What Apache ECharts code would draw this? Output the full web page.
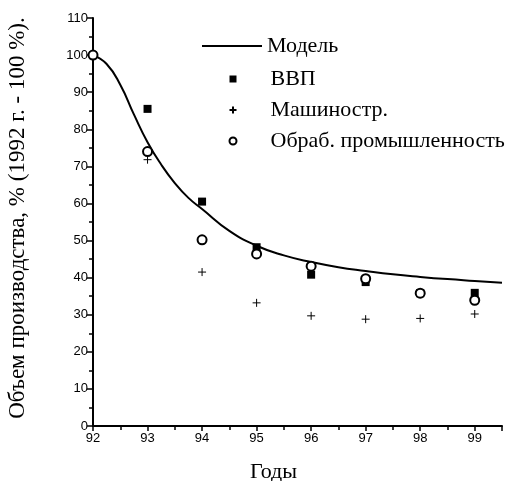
<!DOCTYPE html>
<html><head><meta charset="utf-8">
<script src="https://cdn.jsdelivr.net/npm/echarts@6/dist/echarts.min.js"></script>
<style>html,body{margin:0;padding:0;background:#fff}#c{width:512px;height:481px}</style>
</head><body><div id="c"></div>
<script>
const years = [92, 93, 94, 95, 96, 97, 98, 99];
const gdp = [100, 85.5, 60.5, 48.2, 40.8, 38.8, 35.8, 35.9];
const machinery = [null, 71.8, 41.5, 33.2, 29.7, 28.8, 29.0, 30.2];
const manufacturing = [100, 74.0, 50.2, 46.4, 43.1, 39.7, 35.8, 33.9];
const modelX = [92, 92.25, 92.5, 92.75, 93, 93.25, 93.5, 93.75, 94, 94.5, 95, 95.5, 96, 96.5, 97, 97.5, 98, 98.5, 99, 99.5];
const modelY = [100, 97.6, 92.0, 84.0, 76.5, 70.5, 65.5, 61.5, 58.5, 52.6, 48.6, 46.0, 44.2, 42.8, 41.8, 40.9, 40.2, 39.6, 39.1, 38.6];
const names = ['Модель', 'ВВП', 'Машиностр.', 'Обраб. промышленность'];
const yTicks = [0, 10, 20, 30, 40, 50, 60, 70, 80, 90, 100, 110];

const pair = (xs, ys) => xs.map((x, i) => [x, ys[i]]).filter(p => p[1] !== null);
const chart = echarts.init(document.getElementById('c'), null, {renderer: 'canvas'});
const serif = '"Liberation Serif", "DejaVu Serif", serif';
const sans = '"Liberation Sans Narrow", "Liberation Sans", Arial, sans-serif';
const legendText = {fontFamily: serif, fontSize: 22, color: '#000'};
chart.setOption({
  animation: false,
  backgroundColor: '#fff',
  grid: {left: 93, right: 10, top: 18, bottom: 55, containLabel: false, outerBoundsMode: 'none'},
  legend: [
    {
      orient: 'vertical', left: 197, top: 30, itemWidth: 60, itemHeight: 2, icon: 'rect',
      textStyle: legendText, data: [names[0]]
    },
    {
      orient: 'vertical', left: 223.5, top: 63, itemWidth: 7, itemHeight: 7, itemGap: 9,
      textStyle: Object.assign({}, legendText, {rich: {g: {width: 29}}}),
      formatter: n => '{g| }' + n,
      data: names.slice(1)
    }
  ],
  xAxis: {
    type: 'value', min: 92, max: 99.5, interval: 1,
    name: 'Годы', nameLocation: 'middle', nameGap: 35,
    nameTextStyle: {fontFamily: serif, fontSize: 22, color: '#000', padding: [0, 48, 0, 0]},
    axisLine: {show: true, onZero: false, lineStyle: {color: '#000', width: 2}},
    axisTick: {show: true, inside: false, length: 5, lineStyle: {color: '#000', width: 1.5}},
    minorTick: {show: true, splitNumber: 2, length: 4, lineStyle: {color: '#000', width: 1.5}},
    axisLabel: {color: '#000', fontFamily: sans, fontSize: 13, margin: 6, formatter: v => (Number.isInteger(v) ? String(v) : '')},
    splitLine: {show: false}
  },
  yAxis: {
    type: 'value', min: 0, max: 110, interval: 10,
    name: 'Объем производства, % (1992 г. - 100 %).', nameLocation: 'middle', nameGap: 64,
    nameTextStyle: {fontFamily: serif, fontSize: 23, color: '#000', padding: [0, 0, 0, 8]},
    axisLine: {show: true, lineStyle: {color: '#000', width: 2}},
    axisTick: {show: true, length: 6, lineStyle: {color: '#000', width: 1.5}},
    minorTick: {show: true, splitNumber: 2, length: 4, lineStyle: {color: '#000', width: 1.5}},
    axisLabel: {color: '#000', fontFamily: sans, fontSize: 13, margin: 5, formatter: v => (yTicks.includes(v) ? String(v) : '')},
    splitLine: {show: false}
  },
  series: [
    {name: names[0], type: 'line', data: pair(modelX, modelY), smooth: true, symbol: 'none',
     lineStyle: {color: '#000', width: 2}, itemStyle: {color: '#000'}, z: 2},
    {name: names[1], type: 'scatter', data: pair(years, gdp), symbol: 'rect', symbolSize: 8,
     itemStyle: {color: '#000', opacity: 1}, z: 3},
    {name: names[2], type: 'scatter', data: pair(years, machinery), symbol: 'path://M0,5L10,5M5,0L5,10', symbolSize: 8,
     itemStyle: {color: '#000', borderColor: '#000', borderWidth: 1, opacity: 1}, z: 3},
    {name: names[3], type: 'scatter', data: pair(years, manufacturing), symbol: 'emptyCircle', symbolSize: 9,
     itemStyle: {color: '#000', borderColor: '#000', borderWidth: 1, opacity: 1}, z: 4}
  ]
});
</script></body></html>
